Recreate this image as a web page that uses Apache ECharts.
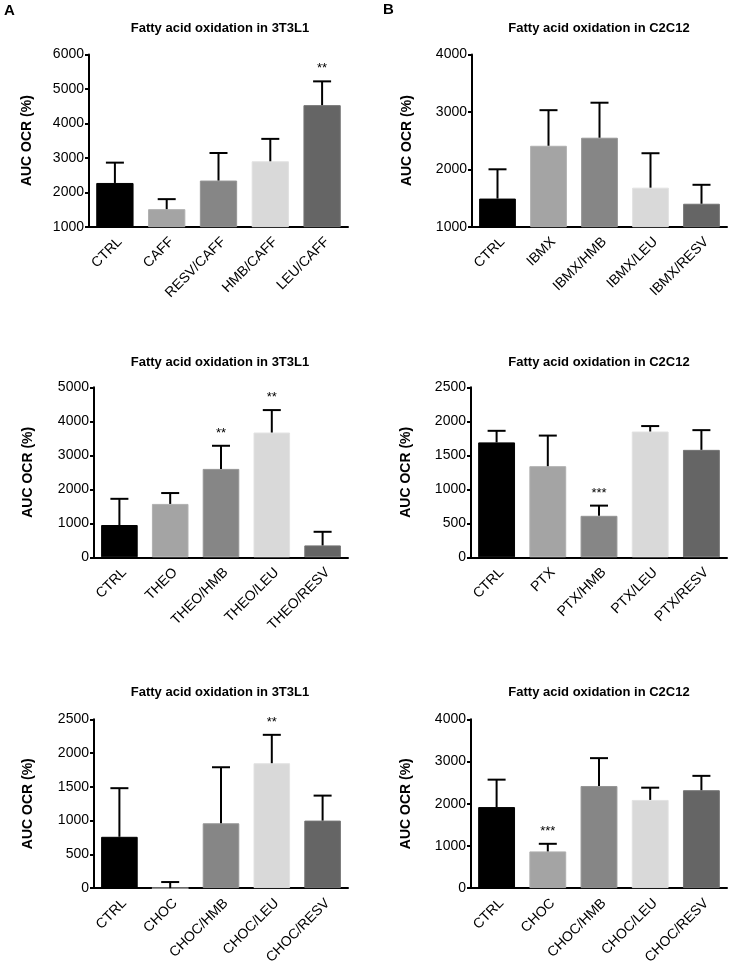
<!DOCTYPE html>
<html>
<head>
<meta charset="utf-8">
<script src="https://cdn.jsdelivr.net/npm/echarts@6/dist/echarts.min.js"></script>
<style>html,body{margin:0;padding:0;background:#fff;}#c{width:730px;height:967px;}</style>
</head>
<body>
<div id="c"></div>
<script>
// ---- data ----
var catsA = ['CTRL','CAFF','RESV/CAFF','HMB/CAFF','LEU/CAFF'];
var meanA = [2270, 1510, 2340, 2900, 4530];
var errA  = [2860, 1800, 3140, 3550, 5220];
var sigA  = ['', '', '', '', '**'];

var catsB = ['CTRL','IBMX','IBMX/HMB','IBMX/LEU','IBMX/RESV'];
var meanB = [1490, 2410, 2550, 1680, 1400];
var errB  = [2000, 3030, 3160, 2280, 1730];
var sigB  = ['', '', '', '', ''];

var catsC = ['CTRL','THEO','THEO/HMB','THEO/LEU','THEO/RESV'];
var meanC = [950, 1570, 2600, 3670, 350];
var errC  = [1720, 1890, 3280, 4330, 750];
var sigC  = ['', '', '**', '**', ''];

var catsD = ['CTRL','PTX','PTX/HMB','PTX/LEU','PTX/RESV'];
var meanD = [1690, 1340, 610, 1850, 1580];
var errD  = [1860, 1790, 760, 1930, 1870];
var sigD  = ['', '', '***', '', ''];

var catsE = ['CTRL','CHOC','CHOC/HMB','CHOC/LEU','CHOC/RESV'];
var meanE = [760, 0, 960, 1850, 1000];
var errE  = [1480, 90, 1790, 2270, 1370];
var sigE  = ['', '', '', '**', ''];

var catsF = ['CTRL','CHOC','CHOC/HMB','CHOC/LEU','CHOC/RESV'];
var meanF = [1920, 870, 2420, 2090, 2320];
var errF  = [2570, 1050, 3080, 2380, 2660];
var sigF  = ['', '***', '', '', ''];

var titles = ['Fatty acid oxidation in 3T3L1','Fatty acid oxidation in C2C12',
              'Fatty acid oxidation in 3T3L1','Fatty acid oxidation in C2C12',
              'Fatty acid oxidation in 3T3L1','Fatty acid oxidation in C2C12'];
var yMin = [1000, 1000, 0, 0, 0, 0];
var yMax = [6000, 4000, 5000, 2500, 2500, 4000];
var yInt = [1000, 1000, 1000, 500, 500, 1000];
var yName = 'AUC OCR (%)';
var panelLetters = ['A', 'B'];

// ---- styles ----
var barColors = ['#000000', '#a4a4a4', '#868686', '#d9d9d9', '#656565'];
var barBorders = ['#000000', '#b0b0b0', '#959595', '#e2e2e2', '#747474'];
var FONT = '"Liberation Sans", Arial, Helvetica, sans-serif';

var panels = [
  {cats: catsA, mean: meanA, err: errA, sig: sigA},
  {cats: catsB, mean: meanB, err: errB, sig: sigB},
  {cats: catsC, mean: meanC, err: errC, sig: sigC},
  {cats: catsD, mean: meanD, err: errD, sig: sigD},
  {cats: catsE, mean: meanE, err: errE, sig: sigE},
  {cats: catsF, mean: meanF, err: errF, sig: sigF}
];

// grid layout (pixels)
var grids = [
  {left: 89,  top: 54.5, width: 259, height: 172.2},
  {left: 472, top: 54.5, width: 255, height: 172.2},
  {left: 94,  top: 387.3, width: 254, height: 170},
  {left: 471, top: 387.3, width: 256, height: 170},
  {left: 94,  top: 719.3, width: 254, height: 170},
  {left: 471, top: 719.3, width: 256, height: 170}
];
var nameGaps = [55, 58, 59, 58, 59, 58];
var titleY = [28, 28, 362, 362, 692, 692];

var option = {
  animation: false,
  backgroundColor: '#fff',
  grid: [], xAxis: [], yAxis: [], series: [], graphic: []
};

panels.forEach(function (p, k) {
  option.grid.push(grids[k]);
  option.xAxis.push({
    type: 'category', gridIndex: k, data: p.cats,
    axisLine: {lineStyle: {color: '#000', width: 2}},
    axisTick: {alignWithLabel: true, length: 5, lineStyle: {color: '#000', width: 2}},
    axisLabel: {rotate: 45, color: '#000', fontSize: 14, fontFamily: FONT, margin: 8,
                interval: 0, verticalAlign: 'top'}
  });
  option.yAxis.push({
    type: 'value', gridIndex: k, min: yMin[k], max: yMax[k], interval: yInt[k],
    name: yName, nameLocation: 'middle', nameGap: nameGaps[k],
    nameTextStyle: {fontSize: 14, fontWeight: 'bold', fontFamily: FONT, color: '#000'},
    splitLine: {show: false},
    axisLine: {show: true, lineStyle: {color: '#000', width: 2}},
    axisTick: {show: true, length: 4, lineStyle: {color: '#000', width: 2}},
    axisLabel: {color: '#000', fontSize: 14, fontFamily: FONT, margin: 5,
                formatter: function (v) { return String(v); }}
  });
  option.series.push({
    type: 'bar', xAxisIndex: k, yAxisIndex: k, barWidth: '72%',
    data: p.mean.map(function (v, i) {
      return {value: v, itemStyle: {color: barColors[i], borderColor: barBorders[i], borderWidth: 1}};
    }),
    z: 2
  });
  (function (p) {
    option.series.push({
      type: 'custom', xAxisIndex: k, yAxisIndex: k, z: 3,
      data: p.mean.map(function (v, i) { return [i, v, p.err[i]]; }),
      renderItem: function (params, api) {
        var i = api.value(0);
        var base = api.coord([i, api.value(1)]);
        var top = api.coord([i, api.value(2)]);
        var half = 9;
        var children = [
          {type: 'line', shape: {x1: base[0], y1: base[1], x2: top[0], y2: top[1]},
           style: {stroke: '#000', lineWidth: 2}},
          {type: 'line', shape: {x1: top[0] - half, y1: top[1], x2: top[0] + half, y2: top[1]},
           style: {stroke: '#000', lineWidth: 2}}
        ];
        var s = p.sig[i];
        if (s) {
          children.push({type: 'text', x: top[0], y: top[1] - 6,
            style: {text: s, textAlign: 'center', textVerticalAlign: 'bottom',
                    fontSize: 13, fontFamily: FONT, fill: '#000'}});
        }
        return {type: 'group', children: children};
      }
    });
  })(p);
  var cx = k % 2 === 0 ? 220 : 599;
  option.graphic.push({
    type: 'text', x: cx, y: titleY[k],
    style: {text: titles[k], textAlign: 'center', textVerticalAlign: 'middle',
            fontSize: 13, fontWeight: 'bold', fontFamily: FONT, fill: '#000'}
  });
});

option.graphic.push({type: 'text', x: 4, y: 11,
  style: {text: panelLetters[0], textAlign: 'left', textVerticalAlign: 'middle', fontSize: 15, fontWeight: 'bold', fontFamily: FONT, fill: '#000'}});
option.graphic.push({type: 'text', x: 383, y: 10,
  style: {text: panelLetters[1], textAlign: 'left', textVerticalAlign: 'middle', fontSize: 15, fontWeight: 'bold', fontFamily: FONT, fill: '#000'}});

var chart = echarts.init(document.getElementById('c'), null, {renderer: 'canvas'});
chart.setOption(option);
</script>
</body>
</html>
